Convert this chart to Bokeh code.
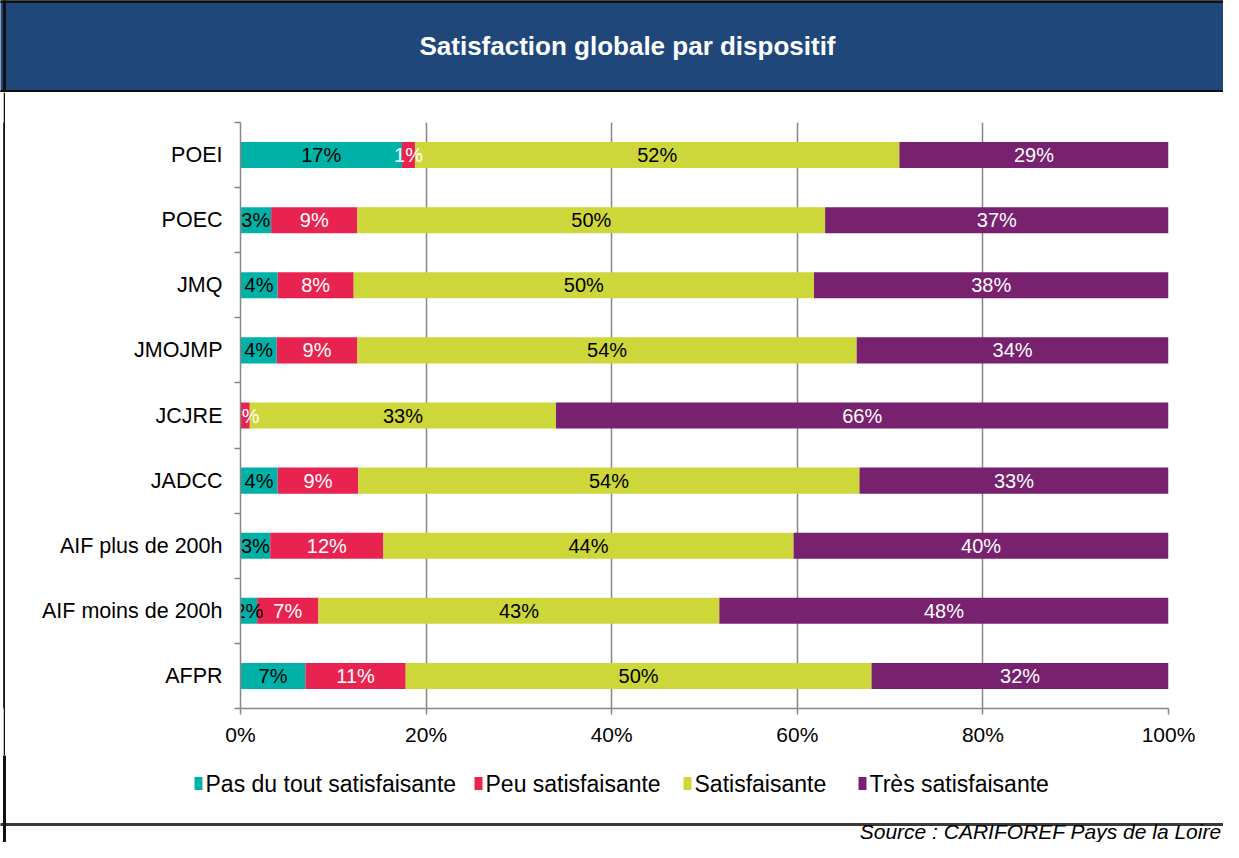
from bokeh.plotting import figure
from bokeh.models import (ColumnDataSource, FixedTicker, Range1d, PrintfTickFormatter, Spacer)
from bokeh.layouts import column, row
from bokeh.embed import file_html
from bokeh.resources import INLINE
from bokeh.core.properties import value

# ---------------- data ----------------
categories = ["POEI", "POEC", "JMQ", "JMOJMP", "JCJRE", "JADCC",
              "AIF plus de 200h", "AIF moins de 200h", "AFPR"]
pas_du_tout = [17.4, 3.3, 4.0, 3.9, 0.0, 4.0, 3.2, 1.8, 7.0]
peu = [1.4, 9.3, 8.2, 8.7, 1.0, 8.7, 12.2, 6.6, 10.8]
satisfaisante = [52.2, 50.4, 49.6, 53.8, 33.0, 54.0, 44.2, 43.2, 50.2]
tres = [29.0, 37.0, 38.2, 33.6, 66.0, 33.3, 40.4, 48.4, 32.0]

series_names = ["Pas du tout satisfaisante", "Peu satisfaisante",
                "Satisfaisante", "Très satisfaisante"]
series_colors = ["#00b1a7", "#e8234f", "#cdd73a", "#77216f"]
label_colors = ["black", "white", "black", "white"]
x_ticks = [0, 20, 40, 60, 80, 100]
title_text = "Satisfaction globale par dispositif"
source_text = "Source : CARIFOREF Pays de la Loire"

# ---------------- style ----------------
W = 1223
GAP = 3
LINE = 2
STRIP = GAP + LINE
NAVY = "#1f477a"
GRID = "#868686"
FONT = "Liberation Sans"
legend_x = [194, 474, 683, 858]   # left edge of each legend key (px)


def blank(width, height, bg="white"):
    f = figure(width=width, height=height, x_range=Range1d(0, width), y_range=Range1d(0, height),
               x_axis_type=None, y_axis_type=None, min_border=0,
               background_fill_color=bg, border_fill_color=bg,
               outline_line_color=None, output_backend="svg", toolbar_location=None)
    f.grid.visible = False
    return f


series = [pas_du_tout, peu, satisfaisante, tres]
keys = ["s0", "s1", "s2", "s3"]
n = len(categories)
ypos = [n - 0.5 - i for i in range(n)]

data = dict(y=ypos, cat=categories)
for k, vals in zip(keys, series):
    data[k] = vals
src = ColumnDataSource(data)

lx, ly, lt, lc = [], [], [], []
for i in range(n):
    left = 0.0
    for s, vals in enumerate(series):
        v = vals[i]
        if v > 0:
            lx.append(left + v / 2)
            ly.append(ypos[i])
            lt.append(f"{v:.0f}%")
            lc.append(label_colors[s])
        left += v
lab_src = ColumnDataSource(dict(x=lx, y=ly, t=lt, c=lc))

# ---------------- header ----------------
HH = 92
header = blank(W, HH, NAVY)
header.quad(left=[0], right=[W], bottom=[0], top=[2], color="#111111")
header.quad(left=[0], right=[W], bottom=[HH - 2], top=[HH], color="#111111")
header.quad(left=[GAP], right=[STRIP], bottom=[0], top=[HH], color="#111111")
header.text(x=[627], y=[HH - 45], text=[title_text], text_color="white",
            text_font=value(FONT), text_font_style="bold", text_font_size="26px",
            text_align="center", text_baseline="middle")

# ---------------- main chart ----------------
MH = 663
main = figure(width=W - STRIP, height=MH, x_range=Range1d(0, 100), y_range=Range1d(0, n),
              min_border_left=240 - STRIP, min_border_right=W - 1168, min_border_top=30,
              min_border_bottom=MH + 92 - 708, outline_line_color=None,
              output_backend="svg", toolbar_location=None)
rs = main.hbar_stack(keys, y="y", height=0.4, fill_color=series_colors,
                     line_color=None, source=src)

main.text(x="x", y="y", text="t", text_color="c", source=lab_src,
          text_align="center", text_baseline="middle",
          text_font=value(FONT), text_font_size="20px")

main.xaxis.ticker = FixedTicker(ticks=x_ticks)
main.xaxis.formatter = PrintfTickFormatter(format="%d%%")
main.xaxis.axis_line_color = GRID
main.xaxis.axis_line_width = 1.5
main.xaxis.major_tick_line_color = GRID
main.xaxis.major_tick_line_width = 1.5
main.xaxis.major_tick_out = 6
main.xaxis.major_tick_in = 0
main.xaxis.minor_tick_line_color = None
main.xaxis.major_label_text_font = FONT
main.xaxis.major_label_text_font_size = "21px"
main.xaxis.major_label_text_color = "black"
main.xaxis.major_label_standoff = 8

main.yaxis.ticker = FixedTicker(ticks=ypos, minor_ticks=list(range(n + 1)))
main.yaxis.major_label_overrides = {y: c for y, c in zip(ypos, categories)}
main.yaxis.axis_line_color = GRID
main.yaxis.axis_line_width = 1.5
main.yaxis.major_tick_line_color = None
main.yaxis.major_tick_out = 0
main.yaxis.major_tick_in = 0
main.yaxis.minor_tick_line_color = GRID
main.yaxis.minor_tick_line_width = 1.5
main.yaxis.minor_tick_out = 6
main.yaxis.minor_tick_in = 0
main.yaxis.major_label_text_font = FONT
main.yaxis.major_label_text_font_size = "21.5px"
main.yaxis.major_label_text_color = "black"
main.yaxis.major_label_standoff = 12

main.ygrid.visible = False
main.xgrid.ticker = FixedTicker(ticks=x_ticks[1:])
main.xgrid.grid_line_color = GRID
main.xgrid.grid_line_width = 1.5

# ---------------- left border strip ----------------
strip = blank(LINE, MH, "#111111")
strip.quad(left=[0], right=[LINE], bottom=[0], top=[MH], color="#111111")

# ---------------- footer (legend + source) ----------------
FH = 842 - HH - MH
footer = blank(W, FH)
LEG_Y = FH - 28
key_src = ColumnDataSource(dict(x=[lx_ + 4 for lx_ in legend_x], c=series_colors,
                                tx=[lx_ + 11 for lx_ in legend_x], t=series_names,
                                y=[LEG_Y] * len(series_names)))
footer.rect(x="x", y="y", width=8, height=13, fill_color="c", line_color=None, source=key_src)
footer.text(x="tx", y="y", text="t", source=key_src, text_color="black",
            text_font=value(FONT), text_font_size="23px",
            text_align="left", text_baseline="middle")

footer.quad(left=[0], right=[W], bottom=[FH - 70], top=[FH - 68], color="#3a3a3a")
footer.quad(left=[GAP], right=[STRIP], bottom=[0], top=[FH], color="#111111")
footer.text(x=[1221], y=[FH - 76], text=[source_text], text_color="black",
            text_font=value(FONT), text_font_style="italic", text_font_size="21px",
            text_align="right", text_baseline="middle")

layout = column(header,
                row(Spacer(width=GAP, height=MH), strip, main, spacing=0),
                footer, spacing=0)

open("out.html", "w").write(file_html(layout, INLINE))
